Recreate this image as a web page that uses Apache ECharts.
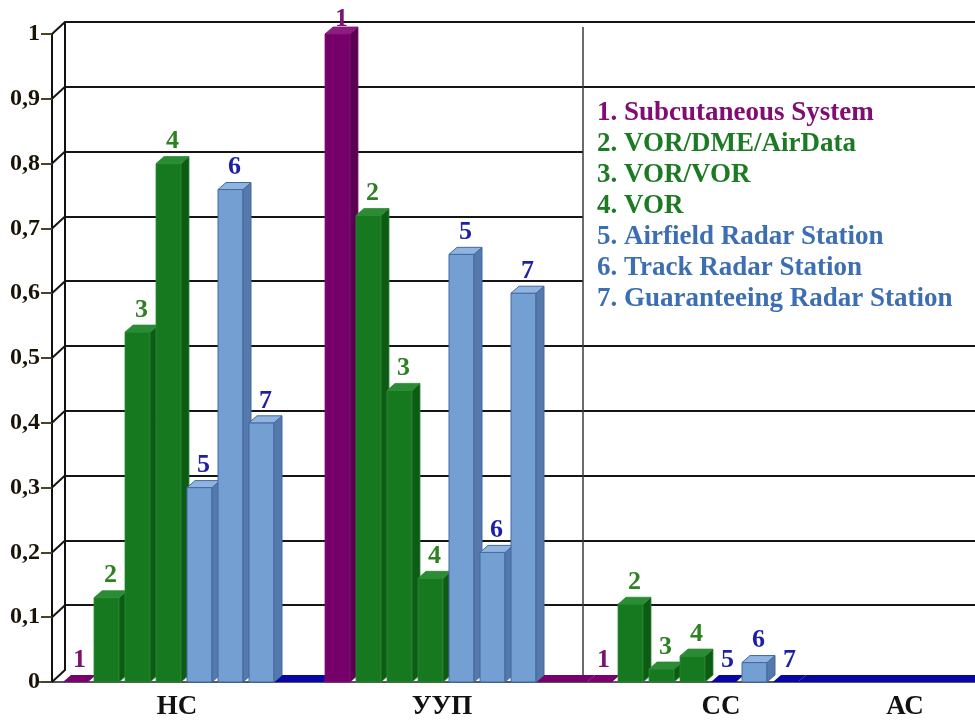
<!DOCTYPE html>
<html>
<head>
<meta charset="utf-8">
<script src="https://cdn.jsdelivr.net/npm/echarts@6/dist/echarts.min.js"></script>
<style>
  html, body { margin: 0; padding: 0; background: #ffffff; }
  #chart { width: 975px; height: 722px; }
</style>
</head>
<body>
<div id="chart"></div>
<script>
// ---- data ----
const categories = ['НС', 'УУП', 'СС', 'АС'];
const seriesNames = [
  '1. Subcutaneous System',
  '2. VOR/DME/AirData',
  '3. VOR/VOR',
  '4. VOR',
  '5. Airfield Radar Station',
  '6. Track Radar Station',
  '7. Guaranteeing Radar Station'
];
const barTags = ['1', '2', '3', '4', '5', '6', '7'];
// one value per category (НС, УУП, СС, АС); null = nothing drawn
const subcutaneous      = [0,    1.00, 0,    null];
const vorDmeAirData     = [0.13, 0.72, 0.12, null];
const vorVor            = [0.54, 0.45, 0.02, null];
const vorOnly           = [0.80, 0.16, 0.04, null];
const airfieldRadar     = [0.30, 0.66, 0,    null];
const trackRadar        = [0.76, 0.20, 0.03, null];
const guaranteeingRadar = [0.40, 0.60, 0,    null];
const yTicks = [0, 0.1, 0.2, 0.3, 0.4, 0.5, 0.6, 0.7, 0.8, 0.9, 1];
const yTickLabels = ['0', '0,1', '0,2', '0,3', '0,4', '0,5', '0,6', '0,7', '0,8', '0,9', '1'];

const allSeries = [subcutaneous, vorDmeAirData, vorVor, vorOnly, airfieldRadar, trackRadar, guaranteeingRadar];

// ---- styling ----
const FONT = '"Liberation Serif", "Times New Roman", serif';
const DX = 8, DY = -7;             // depth of the bars (top and side faces)
const WALL_DX = 13, WALL_DY = -12; // depth of the back wall
const SLOT = 31 / 262;             // one bar slot as a share of the category width
const FACE = 25 / 31;              // front face width as a share of a slot
const KEY_LEFT = 583;              // left edge of the key panel

const PURPLE = { front: '#76006a', side: '#5a0050', top: '#8c1e80', edge: '#83107a', edgeW: 0.8, flat: '#7a006e', label: '#7b1470', legend: '#800c74' };
const GREEN  = { front: '#16791f', side: '#0e5b16', top: '#2b8c35', edge: '#2a8a33', edgeW: 0.8, flat: '#16791f', label: '#2e8022', legend: '#1d7a24' };
const BLUE   = { front: '#739fd2', side: '#5579aa', top: '#90b4df', edge: '#4269a0', edgeW: 1,   flat: '#0707a5', label: '#1f1fa6', legend: '#3d6eb3' };
const palette = [PURPLE, GREEN, GREEN, GREEN, BLUE, BLUE, BLUE];
const floorGapColors = ['#0707a5', '#78006c', '#0707a5'];

function hasBars(catIndex) {
  return allSeries.some(arr => arr[catIndex] !== null && arr[catIndex] !== undefined);
}

function barRenderer(s) {
  return function (params, api) {
    const v = api.value(1);
    if (v === null || v === undefined || isNaN(v)) return;
    const cat = api.value(0);
    const band = api.size([1, 0])[0];
    const slot = band * SLOT;
    const face = slot * FACE;
    const base = api.coord([cat, 0]);
    const top = api.coord([cat, v]);
    const xl = base[0] + (s - 3) * slot - face / 2;
    const xr = xl + face;
    const yb = base[1];
    const yt = top[1];
    const st = palette[s];
    const children = [];
    if (v > 0) {
      children.push({
        type: 'rect',
        shape: { x: xl, y: yt, width: face, height: yb - yt },
        style: { fill: st.front, stroke: st.edge, lineWidth: st.edgeW }
      });
      children.push({
        type: 'polygon',
        shape: { points: [[xr, yt], [xr + DX, yt + DY], [xr + DX, yb + DY], [xr, yb]] },
        style: { fill: st.side, stroke: st.edge, lineWidth: st.edgeW }
      });
    }
    children.push({
      type: 'polygon',
      shape: { points: [[xl, yt], [xl + DX, yt + DY], [xr + DX, yt + DY], [xr, yt]] },
      style: v > 0
        ? { fill: st.top, stroke: st.edge, lineWidth: st.edgeW }
        : { fill: st.flat }
    });
    // tag above the bar, kept inside the plot area
    const ty = Math.max(yt + DY - 15, params.coordSys.y - 15);
    children.push({
      type: 'text',
      z2: 10,
      style: {
        text: barTags[s],
        x: (xl + xr + DX) / 2,
        y: ty,
        fill: st.label,
        font: 'bold 26px ' + FONT,
        align: 'center',
        verticalAlign: 'middle'
      }
    });
    return { type: 'group', children: children };
  };
}

// thick floor band between neighbouring groups
function floorGapRenderer(params, api) {
  const i = api.value(0);
  const band = api.size([1, 0])[0];
  const slot = band * SLOT;
  const face = slot * FACE;
  const here = api.coord([i, 0]);
  const xs = here[0] + 3 * slot + face / 2;
  let xe;
  if (hasBars(i + 1)) {
    xe = api.coord([i + 1, 0])[0] - 3 * slot - face / 2;
  } else {
    xe = params.coordSys.x + params.coordSys.width;
  }
  const yb = here[1];
  return {
    type: 'polygon',
    shape: { points: [[xs, yb], [xs + DX, yb + DY], [xe + DX, yb + DY], [xe, yb]] },
    style: { fill: floorGapColors[i] }
  };
}

// slanted edges joining the front axis to the back wall
function wallEdgeRenderer(params, api) {
  const p = api.coord([0, api.value(1)]);
  return {
    type: 'line',
    shape: { x1: p[0], y1: p[1], x2: p[0] - WALL_DX, y2: p[1] - WALL_DY },
    style: { stroke: '#151515', lineWidth: 2 }
  };
}

const labelShift = [17, 23, 57, -99];
const rich = {};
labelShift.forEach((p, i) => {
  rich['c' + i] = {
    fontFamily: FONT, fontWeight: 'bold', fontSize: 27, color: '#111111',
    padding: p >= 0 ? [0, 0, 0, p] : [0, -p, 0, 0]
  };
});

const series = [];
series.push({
  type: 'custom',
  name: 'floor',
  z: 3,
  xAxisIndex: 0, yAxisIndex: 0,
  renderItem: floorGapRenderer,
  data: floorGapColors.map((c, i) => [i, 0]),
  silent: true
});
allSeries.forEach((arr, s) => {
  series.push({
    type: 'custom',
    name: seriesNames[s],
    z: 3,
    xAxisIndex: 0, yAxisIndex: 0,
    renderItem: barRenderer(s),
    data: arr.map((v, i) => [i, v]),
    itemStyle: { color: palette[s].front }
  });
});
series.push({
  type: 'custom',
  name: 'wall',
  z: 3,
  xAxisIndex: 1, yAxisIndex: 1,
  renderItem: wallEdgeRenderer,
  data: yTicks.map(v => [0, v]),
  silent: true
});

const chart = echarts.init(document.getElementById('chart'), null, { renderer: 'canvas' });
chart.setOption({
  animation: false,
  backgroundColor: '#ffffff',
  grid: [
    { left: 37.5, top: 34, width: 1048, height: 648, outerBoundsMode: 'none', containLabel: false },          // front plane
    { left: 37.5 + 14.5 + WALL_DX, top: 34 + WALL_DY, width: 1100, height: 648, outerBoundsMode: 'none', containLabel: false } // back wall
  ],
  xAxis: [
    {
      type: 'category', gridIndex: 0, data: categories, boundaryGap: true,
      axisLine: { show: true, lineStyle: { color: '#222222', width: 1.5 } },
      axisTick: { show: false },
      axisLabel: {
        margin: 12,
        fontFamily: FONT, fontWeight: 'bold', fontSize: 27, color: '#111111',
        formatter: (val, idx) => '{c' + idx + '|' + val + '}',
        rich: rich
      },
      splitLine: { show: false }
    },
    { type: 'value', gridIndex: 1, min: 0, max: 1, show: false }
  ],
  yAxis: [
    {
      type: 'value', gridIndex: 0, min: 0, max: 1, interval: 0.1, offset: -14.5,
      axisLine: { show: true, lineStyle: { color: '#111111', width: 2 } },
      axisTick: { show: true, length: 11, lineStyle: { color: '#4a4326', width: 2 } },
      axisLabel: {
        margin: 12,
        fontFamily: FONT, fontWeight: 'bold', fontSize: 24, color: '#1a1206',
        formatter: v => yTickLabels[Math.round(v * 10)]
      },
      splitLine: { show: false }
    },
    {
      type: 'value', gridIndex: 1, min: 0, max: 1, interval: 0.1,
      axisLine: { show: true, lineStyle: { color: '#111111', width: 2 } },
      axisTick: { show: false },
      axisLabel: { show: false },
      splitLine: {
        show: true,
        lineStyle: {
          width: 2,
          color: ['rgba(0,0,0,0)', '#151515', '#151515', '#151515', '#151515', '#151515',
                  '#151515', '#151515', '#151515', '#151515', '#151515']
        }
      }
    }
  ],
  legend: {
    orient: 'vertical',
    left: KEY_LEFT, top: 95, z: 1,
    icon: 'none', itemWidth: 0, itemHeight: 10, itemGap: 0,
    padding: [2.5, 60, 4, 9],
    backgroundColor: '#ffffff',
    borderWidth: 0,
    selectedMode: false,
    textStyle: { fontFamily: FONT, fontWeight: 'bold', fontSize: 27, lineHeight: 31 },
    data: seriesNames.map((n, i) => ({ name: n, textStyle: { color: palette[i].legend } }))
  },
  graphic: [{
    type: 'line', z: 2, silent: true,
    shape: { x1: KEY_LEFT, y1: 27, x2: KEY_LEFT, y2: 682 },
    style: { stroke: '#3a3a3a', lineWidth: 1.5 }
  }],
  series: series
});
</script>
</body>
</html>
